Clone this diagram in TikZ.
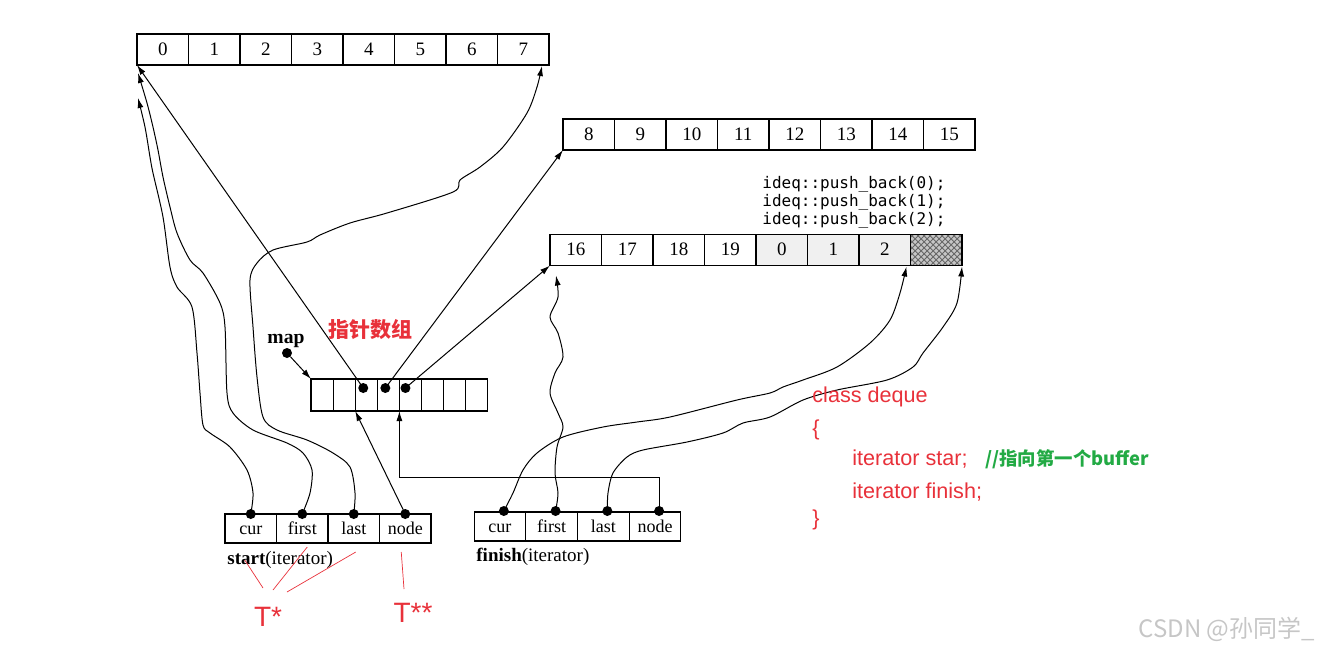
\documentclass[tikz,border=0pt]{standalone}
\usepackage{fontspec}
\setmainfont{Liberation Serif}
\setsansfont{Liberation Sans}
\newfontfamily\cjk{Noto Sans CJK SC}
\newfontfamily\codefont{DejaVu Sans Mono}
\usetikzlibrary{arrows.meta,calc,patterns}
\definecolor{notered}{RGB}{232,49,58}
\definecolor{notegreen}{RGB}{34,170,68}

\begin{document}
\begin{tikzpicture}[x=0.5pt,y=-0.5pt,
    cell/.style={draw,line width=0.6pt,minimum width=25.75pt,minimum height=15.5pt,inner sep=0pt,outer sep=0pt,text height=1.5ex,text depth=0.25ex,font=\fontsize{9.5}{10}\selectfont},
    mapcell/.style={cell,minimum width=11.05pt,minimum height=16pt},
    itcell/.style={cell,minimum height=14.5pt,font=\fontsize{9}{10}\selectfont},
    dot/.style={circle,fill,inner sep=0pt,minimum size=5pt},
    arr/.style={line width=0.5pt,-{Latex[length=5pt,width=3pt]}},
    note/.style={notered,line width=0.35pt},
    deq/.style={anchor=west,text=notered,inner sep=0pt,font=\sffamily\fontsize{10.8}{12}\selectfont}]

    \useasboundingbox (0,0) rectangle (1328,650);

    % buffers
    \foreach \n [count=\i from 0] in {0,...,7}
        {\node[cell] (a\i) at (137+51.5*\i+25.75,49.5) {\n};}
    \foreach \n [count=\i from 0] in {8,...,15}
        {\node[cell] (b\i) at (563+51.5*\i+25.75,134.5) {\n};}
    \foreach \n/\s [count=\i from 0] in {16/white,17/white,18/white,19/white,0/gray!12,1/gray!12,2/gray!12}
        {\node[cell,fill=\s] (c\i) at (550+51.5*\i+25.75,250) {\n};}
    \node[cell,fill=gray!45] (c7) at (550+51.5*7+25.75,250) {};
    \fill[pattern=crosshatch,pattern color=black!60] (c7.south west) rectangle (c7.north east);
    \draw[line width=0.6pt] (c7.south west) rectangle (c7.north east);

    % push_back calls
    \node[anchor=west,align=left,inner sep=0pt,font=\codefont\fontsize{8}{9}\selectfont] (pb) at (762,202)
        {ideq::push\_back(0);\\ideq::push\_back(1);\\ideq::push\_back(2);};

    % map
    \foreach \i in {0,...,7}
        {\node[mapcell] (m\i) at (311+22.1*\i+11.05,395) {};}
    \node[dot] (p0) at ($(m2.center)+(-3,-7)$) {};
    \node[dot] (p1) at ($(m3.center)+(-3,-7)$) {};
    \node[dot] (p2) at ($(m4.center)+(-5,-7)$) {};
    \node[font=\bfseries\fontsize{9.8}{10}\selectfont,inner sep=0pt] (maplbl) at (286,341) {map};
    \node[dot] (mp) at (287,353) {};
    \draw[arr] (mp) -- (m0.north west);
    \node[font=\cjk\bfseries\fontsize{10.5}{11}\selectfont,text=notered] (ptrs) at (370,330) {指针数组};

    \draw[arr] (p0.center) -- (a0.south west);
    \draw[arr] (p1.center) -- (b0.south west);
    \draw[arr] (p2.center) -- (c0.south west);

    % iterators
    \foreach \n [count=\i] in {cur,first,last,node}
        {\node[itcell] (s\i) at (225+51.5*\i-25.75,528.5) {\n};
         \node[dot] (sd\i) at (s\i.north) {};}
    \foreach \n [count=\i] in {cur,first,last,node}
        {\node[itcell] (f\i) at (474+51.75*\i-25.9,526.5) {\n};
         \node[dot] (fd\i) at ($(f\i.north)+(4,-1)$) {};}
    \node[anchor=west,inner sep=0pt,font=\fontsize{9.5}{10}\selectfont] (slbl) at (227,560) {\textbf{start}(iterator)};
    \node[anchor=west,inner sep=0pt,font=\fontsize{9.5}{10}\selectfont] (flbl) at (476,557) {\textbf{finish}(iterator)};

    % node fields back to the map
    \draw[arr] (sd4.center) -- (m2.south west);
    \draw[arr] (fd4.center) -- ++(0,-34) -| (m4.south west);

    % start: cur, first, last
    \coordinate (tipA) at ($(a0.south west)+(1,33)$);
    \coordinate (tipB) at ($(a0.south west)+(1,8)$);
    \coordinate (tipC) at ($(a7.south east)+(-7,1)$);
    \draw[arr] plot[smooth,tension=0.5] coordinates {(sd1) (253,493) (247,470) (230,447) (210,433) (203,425) (200,393) (197,353) (192,307) (177,287) (170,267) (163,217) (153,173) (150,157) (145,127) (tipA)};
    \draw[arr] plot[smooth,tension=0.5] coordinates {(sd2) (310,493) (312,470) (303,453) (287,443) (253,430) (233,413) (227,393) (225,327) (220,303) (203,273) (190,260) (177,233) (170,207) (163,177) (158,150) (153,127) (147,103) (tipB)};
    \draw[arr] plot[smooth,tension=0.5] coordinates {(sd3) (355,493) (350,467) (333,453) (307,440) (277,430) (263,417) (257,377) (253,327) (250,280) (257,263) (273,250) (307,242) (320,235) (350,223) (387,213) (453,192) (460,180) (480,167) (503,147) (527,113) (537,87) (tipC)};

    % finish: cur, first, last
    \coordinate (tipD) at ($(c7.south west)+(-4,1)$);
    \coordinate (tipE) at ($(c0.south west)+(6,10)$);
    \coordinate (tipF) at ($(c7.south east)+(0,1)$);
    \draw[arr] plot[smooth,tension=0.5] coordinates {(fd1) (513,493) (523,470) (537,453) (563,437) (603,427) (637,422) (670,417) (737,400) (770,393) (783,387) (803,380) (837,367) (870,343) (890,320) (900,293) (tipD)};
    \draw[arr] plot[smooth,tension=0.5] coordinates {(fd2) (558,493) (555,473) (557,447) (563,427) (558,413) (550,393) (555,373) (563,357) (558,333) (550,317) (558,297) (tipE)};
    \draw[arr] plot[smooth,tension=0.5] coordinates {(fd3) (608,493) (613,473) (627,457) (643,450) (687,442) (723,433) (743,423) (770,417) (803,400) (837,390) (887,380) (913,367) (923,353) (943,327) (957,303) (tipF)};

    % pointer types
    \node[text=notered,font=\sffamily\fontsize{14}{14}\selectfont] (tstar) at (268,617) {T*};
    \node[text=notered,font=\sffamily\fontsize{14}{14}\selectfont] (tstar2) at (413,613) {T**};
    \draw[note] ($(s1.south)+(-6,17)$) -- ($(tstar)+(-5,-29)$);
    \draw[note] ($(s2.south)+(5,4)$) -- ($(tstar)+(5,-27)$);
    \draw[note] ($(s3.south)+(2,9)$) -- ($(tstar)+(19,-25)$);
    \draw[note] ($(s4.south)+(-4,9)$) -- ($(tstar2)+(-9,-24)$);

    % class deque
    \node[deq] (cls) at (812,397) {class deque};
    \node[deq] (lb) at (812,430) {\{};
    \node[deq] (it1) at (852,459) {iterator star;};
    \node[deq,text=notegreen,font=\cjk\bfseries\fontsize{9.2}{10}\selectfont] (cmt) at (985,459) {//指向第一个buffer};
    \node[deq] (it2) at (852,492) {iterator finish;};
    \node[deq] (rb) at (812,520) {\}};

    \node[anchor=east,text=gray!45,font=\cjk\fontsize{12}{12}\selectfont] (wm) at (1322,629) {CSDN @孙同学\_};
\end{tikzpicture}
\end{document}
